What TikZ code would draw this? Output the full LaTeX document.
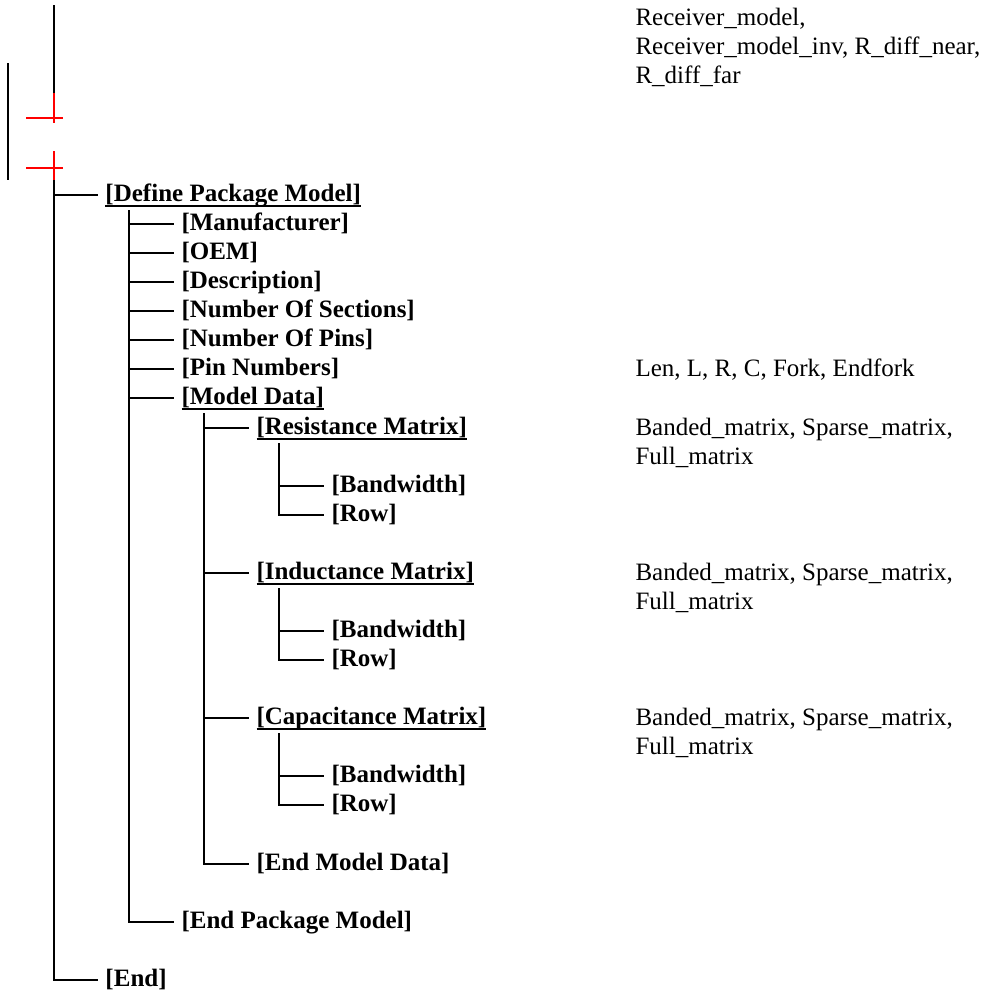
\documentclass[tikz,border=0pt]{standalone}
\usepackage{fontspec}
\setmainfont{Liberation Serif}
\usetikzlibrary{calc}
\newsavebox{\kwbox}
\newcommand{\ulkw}[1]{\sbox\kwbox{#1}\rlap{\usebox\kwbox}\rule[-2.1pt]{\wd\kwbox}{1pt}}
\tikzset{
  kw/.style = {font=\bfseries\fontsize{10}{11.6}\selectfont, anchor=west, inner xsep=3pt, inner ysep=0pt, text height=8pt, text depth=2.5pt},
  note/.style = {font=\fontsize{10}{11.6}\selectfont, anchor=base west, align=left, inner sep=0pt},
  tree/.style = {line width=0.7pt},
  redmark/.style = {line width=0.7pt, red}
}

\begin{document}
\begin{tikzpicture}[x=0.4pt, y=-0.4pt]
\useasboundingbox (0,0) rectangle (989,995);
% trunk above the tree
\coordinate (top) at (54,5);
\coordinate (cut) at (54,93);
\coordinate (t1) at (54,180);
\path[draw, tree](top)to(cut);
\path[draw, redmark](cut)--(54,123);
\path[draw, redmark](26,118)--(63,118);
\path[draw, redmark](54,151)--(t1);
\path[draw, redmark](26,168)--(63,168);
\path[draw, tree](8,63)--(8,180);

% level 1
\node[kw] (def) at (97.5,195) {\ulkw{[Define Package Model]}};
\node[kw] (end) at (97.5,980) {[End]};
\path[draw, tree](t1) |- (def.west);
\path[draw, tree](t1) |- (end.west);

% level 2
\coordinate (t2) at (129,210);
\node[kw] (manu) at (173.5,224) {[Manufacturer]};
\node[kw] (oem) at (173.5,253) {[OEM]};
\node[kw] (desc) at (173.5,282) {[Description]};
\node[kw] (nsec) at (173.5,311) {[Number Of Sections]};
\node[kw] (npin) at (173.5,340) {[Number Of Pins]};
\node[kw] (pinnum) at (173.5,369) {[Pin Numbers]};
\node[kw] (mdata) at (173.5,398) {\ulkw{[Model Data]}};
\node[kw] (endpm) at (173.5,922) {[End Package Model]};
\foreach \n in {manu,oem,desc,nsec,npin,pinnum,mdata,endpm}
  \path[draw, tree](t2) |- (\n.west);

% level 3
\coordinate (t3) at (204,413);
\node[kw] (rmat) at (248.5,428) {\ulkw{[Resistance Matrix]}};
\node[kw] (imat) at (248.5,573) {\ulkw{[Inductance Matrix]}};
\node[kw] (cmat) at (248.5,718) {\ulkw{[Capacitance Matrix]}};
\node[kw] (endmd) at (248.5,864) {[End Model Data]};
\foreach \n in {rmat,imat,cmat,endmd}
  \path[draw, tree](t3) |- (\n.west);

% level 4
\foreach \m/\y in {r/428, i/573, c/718}{
  \coordinate (t4\m) at (279,\y+15);
  \node[kw] (bw\m) at (323.5,\y+58) {[Bandwidth]};
  \node[kw] (row\m) at (323.5,\y+87) {[Row]};
  \path[draw, tree](t4\m) |- (bw\m.west);
  \path[draw, tree](t4\m) |- (row\m.west);
}

% notes (base = last line)
\node[note] (recv) at (635,83) {Receiver\_model,\\Receiver\_model\_inv, R\_diff\_near,\\R\_diff\_far};
\node[note] (pinval) at (635,376) {Len, L, R, C, Fork, Endfork};
\node[note] (rval) at (635,464) {Banded\_matrix, Sparse\_matrix,\\Full\_matrix};
\node[note] (ival) at (635,609) {Banded\_matrix, Sparse\_matrix,\\Full\_matrix};
\node[note] (cval) at (635,754) {Banded\_matrix, Sparse\_matrix,\\Full\_matrix};
\end{tikzpicture}
\end{document}
